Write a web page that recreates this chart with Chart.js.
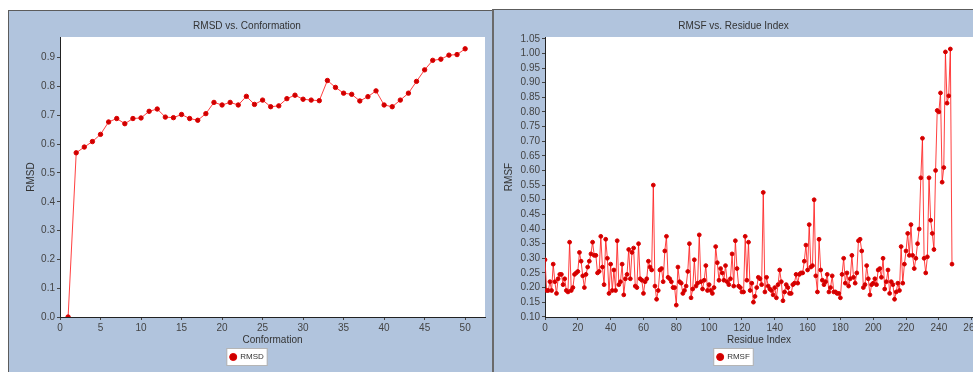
<!DOCTYPE html>
<html>
<head>
<meta charset="utf-8">
<title>RMSD and RMSF</title>
<script src="https://cdn.jsdelivr.net/npm/chart.js@4.4.0/dist/chart.umd.min.js"></script>
<style>
    html, body {
        margin: 0;
        padding: 0;
        background: #ffffff;
        width: 973px;
        height: 372px;
        overflow: hidden;
    }
    .panel {
        position: absolute;
        background: #b1c4dd;
        border-top: 1px solid #5c5c5c;
        border-left: 1px solid #5c5c5c;
    }
    #leftPanel { left: 8px; top: 10px; width: 483px; height: 361px; }
    #rightPanel { left: 492px; top: 9px; width: 490px; height: 362px; border-left: 2px solid #6a6a6a; }
    canvas { display: block; }
</style>
</head>
<body>
<div class="panel" id="leftPanel"><canvas id="rmsdChart" width="483" height="361"></canvas></div>
<div class="panel" id="rightPanel"><canvas id="rmsfChart" width="490" height="362"></canvas></div>

<script>
// RMSD per conformation (left chart)
const conformations = [1, 2, 3, 4, 5, 6, 7, 8, 9, 10, 11, 12, 13, 14, 15, 16, 17, 18, 19, 20,
    21, 22, 23, 24, 25, 26, 27, 28, 29, 30, 31, 32, 33, 34, 35, 36, 37, 38, 39, 40,
    41, 42, 43, 44, 45, 46, 47, 48, 49, 50];
const rmsdValues = [0.0, 0.570, 0.590, 0.609, 0.634, 0.677, 0.689, 0.671, 0.689, 0.691,
    0.714, 0.722, 0.694, 0.692, 0.703, 0.689, 0.683, 0.706, 0.745, 0.736,
    0.745, 0.736, 0.766, 0.738, 0.753, 0.730, 0.733, 0.758, 0.770, 0.756,
    0.753, 0.751, 0.821, 0.797, 0.777, 0.773, 0.750, 0.765, 0.785, 0.736,
    0.730, 0.753, 0.777, 0.818, 0.858, 0.891, 0.895, 0.909, 0.911, 0.931];

// RMSF per residue (right chart), residue index starts at 0
const firstResidue = 0;
const rmsfValues = [
    0.295, 0.19, 0.19, 0.22, 0.19, 0.28, 0.22, 0.18, 0.23, 0.245,
    0.245, 0.21, 0.23, 0.19, 0.185, 0.355, 0.19, 0.2, 0.245, 0.25,
    0.255, 0.32, 0.29, 0.24, 0.2, 0.245, 0.27, 0.29, 0.315, 0.355,
    0.31, 0.31, 0.25, 0.255, 0.375, 0.27, 0.21, 0.365, 0.3, 0.18,
    0.28, 0.19, 0.26, 0.19, 0.36, 0.21, 0.22, 0.28, 0.175, 0.23,
    0.245, 0.33, 0.23, 0.32, 0.335, 0.205, 0.2, 0.35, 0.23, 0.225,
    0.18, 0.22, 0.23, 0.29, 0.27, 0.26, 0.55, 0.205, 0.16, 0.19,
    0.26, 0.265, 0.22, 0.325, 0.375, 0.235, 0.23, 0.22, 0.2, 0.2,
    0.14, 0.27, 0.22, 0.215, 0.18, 0.19, 0.205, 0.255, 0.35, 0.165,
    0.195, 0.295, 0.205, 0.215, 0.38, 0.22, 0.195, 0.225, 0.275, 0.19,
    0.21, 0.19, 0.18, 0.2, 0.34, 0.285, 0.225, 0.265, 0.25, 0.225,
    0.275, 0.22, 0.21, 0.23, 0.315, 0.205, 0.36, 0.265, 0.205, 0.2,
    0.185, 0.185, 0.375, 0.225, 0.355, 0.19, 0.215, 0.15, 0.17, 0.2,
    0.235, 0.23, 0.21, 0.525, 0.185, 0.235, 0.205, 0.195, 0.19, 0.175,
    0.2, 0.165, 0.21, 0.26, 0.22, 0.155, 0.185, 0.21, 0.2, 0.18,
    0.18, 0.21, 0.215, 0.245, 0.215, 0.245, 0.25, 0.25, 0.29, 0.345,
    0.26, 0.415, 0.27, 0.275, 0.5, 0.24, 0.185, 0.365, 0.26, 0.225,
    0.21, 0.22, 0.245, 0.185, 0.2, 0.24, 0.185, 0.185, 0.18, 0.18,
    0.165, 0.245, 0.3, 0.215, 0.25, 0.205, 0.23, 0.31, 0.235, 0.215,
    0.25, 0.36, 0.365, 0.325, 0.2, 0.21, 0.275, 0.23, 0.175, 0.21,
    0.215, 0.23, 0.21, 0.26, 0.265, 0.235, 0.3, 0.195, 0.22, 0.26,
    0.18, 0.22, 0.21, 0.16, 0.185, 0.215, 0.19, 0.34, 0.215, 0.28,
    0.325, 0.385, 0.31, 0.415, 0.31, 0.265, 0.3, 0.35, 0.4, 0.575,
    0.71, 0.3, 0.25, 0.305, 0.575, 0.43, 0.385, 0.33, 0.6, 0.805,
    0.8, 0.865, 0.56, 0.61, 1.005, 0.83, 0.855, 1.015, 0.28
];

const COLORS = {
    line: "rgba(255, 30, 30, 0.85)",
    point: "#cc0000",
    pointBorder: "#e00000",
    text: "#333333",
    tick: "#444444",
    axis: "#222222",
};

Chart.defaults.font.family = '"Liberation Sans", Arial, sans-serif';
Chart.defaults.color = COLORS.text;

// white plot background and the white legend box, like the original plot
const plotBackground = {
    id: "plotBackground",
    beforeDraw(chart) {
        const {ctx, chartArea} = chart;
        ctx.save();
        ctx.fillStyle = "#ffffff";
        ctx.fillRect(chartArea.left, chartArea.top, chartArea.right - chartArea.left, chartArea.bottom - chartArea.top);
        const legend = chart.legend;
        if (legend && legend.legendHitBoxes && legend.legendHitBoxes.length) {
            const box = legend.legendHitBoxes[0];
            ctx.fillRect(box.left - 3, box.top - 4, box.width + 6, box.height + 8);
            ctx.strokeStyle = "#b5b5b5";
            ctx.lineWidth = 1;
            ctx.strokeRect(box.left - 3.5, box.top - 4.5, box.width + 7, box.height + 9);
        }
        ctx.restore();
    }
};

function makeChart(canvasId, cfg) {
    const points = cfg.x.map((x, i) => ({x: x, y: cfg.y[i]}));
    return new Chart(document.getElementById(canvasId), {
        type: "line",
        data: {
            datasets: [{
                label: cfg.label,
                data: points,
                borderColor: COLORS.line,
                borderWidth: 1,
                backgroundColor: COLORS.point,
                pointBackgroundColor: COLORS.point,
                pointBorderColor: COLORS.pointBorder,
                pointBorderWidth: 1,
                pointRadius: cfg.pointRadius,
                tension: 0,
            }],
        },
        options: {
            responsive: false,
            animation: false,
            layout: {padding: {left: 0, right: cfg.padRight, top: 0, bottom: 1}},
            plugins: {
                title: {
                    display: true,
                    text: cfg.title,
                    color: COLORS.text,
                    font: {size: 10, weight: "normal"},
                    padding: {top: cfg.titleTop, bottom: 5},
                },
                legend: {
                    position: "bottom",
                    labels: {
                        usePointStyle: true,
                        pointStyle: "circle",
                        boxWidth: 6,
                        boxHeight: 5,
                        color: COLORS.text,
                        font: {size: 8},
                        padding: 4,
                    },
                },
                tooltip: {enabled: false},
            },
            scales: {
                x: {
                    type: "linear",
                    min: cfg.xMin,
                    max: cfg.xMax,
                    afterFit: (scale) => { scale.height = 32; },
                    border: {display: true, color: COLORS.axis, width: 1},
                    grid: {display: true, drawOnChartArea: false, drawTicks: true, tickLength: 3, color: COLORS.tick},
                    ticks: {stepSize: cfg.xStep, includeBounds: false, autoSkip: false, color: COLORS.tick, font: {size: 10}, padding: 2, maxRotation: 0},
                    title: {display: true, text: cfg.xTitle, color: COLORS.text, font: {size: 10}, padding: {top: 0, bottom: 3}},
                },
                y: {
                    min: cfg.yMin,
                    max: cfg.yMax,
                    afterFit: (scale) => { scale.width = 51; },
                    border: {display: true, color: COLORS.axis, width: 1},
                    grid: {display: true, drawOnChartArea: false, drawTicks: true, tickLength: 3, color: COLORS.tick},
                    ticks: {
                        stepSize: cfg.yStep,
                        includeBounds: false,
                        autoSkip: false,
                        color: COLORS.tick,
                        font: {size: 10},
                        padding: 2,
                        callback: (value) => Number(value).toFixed(cfg.yDigits),
                    },
                    title: {display: true, text: cfg.yTitle, color: COLORS.text, font: {size: 10}, padding: {top: cfg.yTitlePad, bottom: 0}},
                },
            },
        },
        plugins: [plotBackground],
    });
}

makeChart("rmsdChart", {
    x: conformations,
    y: rmsdValues,
    label: "RMSD",
    title: "RMSD vs. Conformation",
    xTitle: "Conformation",
    yTitle: "RMSD",
    xMin: 0, xMax: 52.45, xStep: 5,
    yMin: 0, yMax: 0.972, yStep: 0.1, yDigits: 1,
    yTitlePad: 16,
    titleTop: 9,
    padRight: 7,
    pointRadius: 2.2,
});

makeChart("rmsfChart", {
    x: rmsfValues.map((v, i) => firstResidue + i),
    y: rmsfValues,
    label: "RMSF",
    title: "RMSF vs. Residue Index",
    xTitle: "Residue Index",
    yTitle: "RMSF",
    xMin: 0, xMax: 260.8, xStep: 20,
    yMin: 0.0994, yMax: 1.056, yStep: 0.05, yDigits: 2,
    yTitlePad: 9,
    titleTop: 10,
    padRight: 11,
    pointRadius: 1.9,
});
</script>
</body>
</html>
